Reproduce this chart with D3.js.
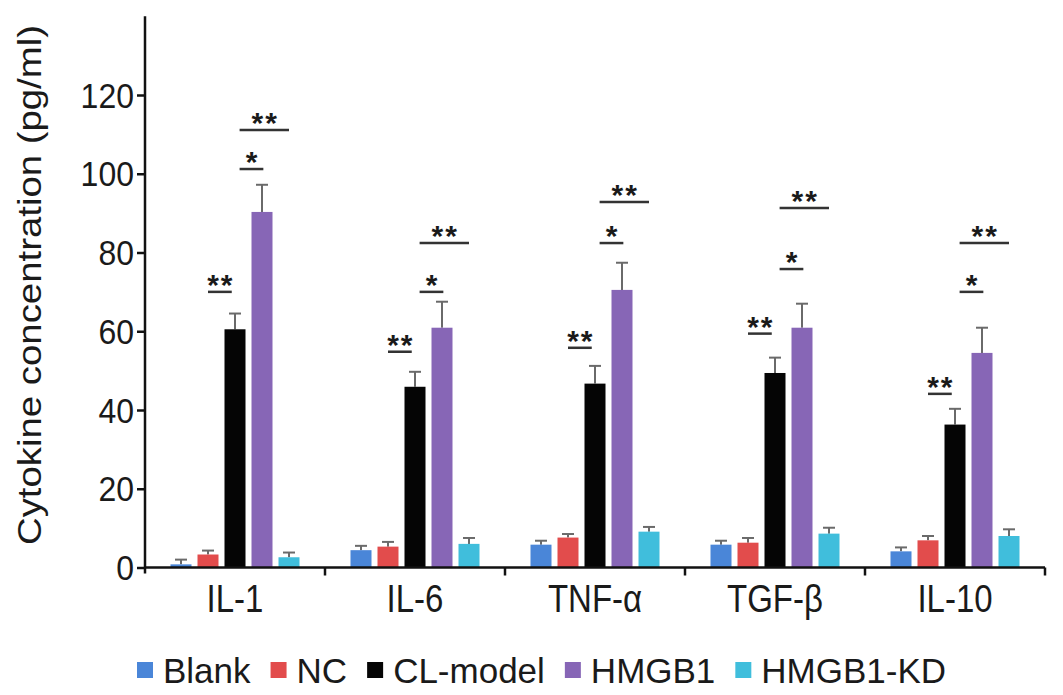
<!DOCTYPE html>
<html>
<head>
<meta charset="utf-8">
<script src="https://cdn.jsdelivr.net/npm/d3@7"></script>
<style>
  html, body { margin: 0; padding: 0; background: #fff; }
  svg { display: block; }
  text { font-family: "Liberation Sans", Arial, sans-serif; fill: #1a1a1a; }
</style>
</head>
<body>
<svg id="chart" width="1063" height="695"></svg>
<script>
// ---- data ----
const categories = ["IL-1", "IL-6", "TNF-\u03b1", "TGF-\u03b2", "IL-10"];
const seriesNames = ["Blank", "NC", "CL-model", "HMGB1", "HMGB1-KD"];
const blank    = [0.8, 4.4, 5.8, 5.8, 4.1];
const blankErr = [1.2, 1.1, 1.0, 1.0, 1.0];
const nc       = [3.3, 5.3, 7.6, 6.3, 6.9];
const ncErr    = [1.0, 1.2, 0.9, 1.2, 1.1];
const clModel  = [60.5, 45.9, 46.7, 49.4, 36.3];
const clErr    = [4.0, 3.8, 4.5, 3.9, 4.0];
const hmgb1    = [90.3, 60.9, 70.5, 60.9, 54.5];
const hmgb1Err = [6.9, 6.6, 6.9, 6.1, 6.4];
const kd       = [2.6, 6.0, 9.1, 8.6, 8.0];
const kdErr    = [1.2, 1.5, 1.2, 1.5, 1.7];
const yTicks   = [0, 20, 40, 60, 80, 100, 120];
const yMax     = 140;
// significance annotations (value of the line) per category
const sigLow   = [70.0, 54.8, 55.8, 59.4, 44.1];
const sigMid   = [101.2, 70.0, 82.4, 75.8, 70.0];
const sigTop   = [111.1, 82.4, 92.8, 91.3, 82.4];
const sigLabels = ["**", "*", "**"];

const values = [blank, nc, clModel, hmgb1, kd];
const errors = [blankErr, ncErr, clErr, hmgb1Err, kdErr];
const colors = ["#4a86d8", "#e24c4c", "#050505", "#8766b6", "#40bedc"];

// ---- layout ----
const svg = d3.select("#chart");
const X0 = 145, X1 = 1045, Y0 = 567.5, YT = 16.25;
const y = d3.scaleLinear().domain([0, yMax]).range([Y0, YT]);
const xBand = d3.scaleBand().domain(categories).range([X0, X1]).padding(0);
const pitch = 27, barW = 21;
const xSub = d3.scaleLinear().domain([0, 4]).range([-2 * pitch, 2 * pitch]);
const cx = (c, i) => xBand(c) + xBand.bandwidth() / 2 + xSub(i);

// bars
const barData = [];
categories.forEach((c, ci) => {
  seriesNames.forEach((s, si) => {
    barData.push({ c, ci, si, v: values[si][ci], e: errors[si][ci] });
  });
});

// error bars
const eg = svg.append("g");
eg.selectAll("line.stem").data(barData).join("line")
  .attr("x1", d => cx(d.c, d.si)).attr("x2", d => cx(d.c, d.si))
  .attr("y1", d => y(d.v)).attr("y2", d => y(d.v + d.e))
  .attr("stroke", "#6a6a6a").attr("stroke-width", 2);
eg.selectAll("line.cap").data(barData).join("line")
  .attr("x1", d => cx(d.c, d.si) - 6).attr("x2", d => cx(d.c, d.si) + 6)
  .attr("y1", d => y(d.v + d.e)).attr("y2", d => y(d.v + d.e))
  .attr("stroke", "#6a6a6a").attr("stroke-width", 2);

svg.append("g").selectAll("rect").data(barData).join("rect")
  .attr("x", d => cx(d.c, d.si) - barW / 2)
  .attr("width", barW)
  .attr("y", d => y(d.v))
  .attr("height", d => Y0 - y(d.v))
  .attr("fill", d => colors[d.si]);

// significance annotations
const spans = [[1.0, 1.88], [2.17, 3.05], [2.17, 4.0]];
const sigVals = [sigLow, sigMid, sigTop];
const sg = svg.append("g");
categories.forEach((c, ci) => {
  sigVals.forEach((arr, k) => {
    const xa = xBand(c) + xBand.bandwidth() / 2 + xSub(spans[k][0]);
    const xb = xBand(c) + xBand.bandwidth() / 2 + xSub(spans[k][1]);
    const ly = y(arr[ci]);
    sg.append("line").attr("x1", xa).attr("x2", xb).attr("y1", ly).attr("y2", ly)
      .attr("stroke", "#333").attr("stroke-width", 2.5);
    sg.append("text").attr("x", (xa + xb) / 2 + 1).attr("y", ly + 3)
      .attr("text-anchor", "middle").attr("font-size", 30).attr("font-weight", "bold")
      .attr("letter-spacing", 2)
      .text(sigLabels[k]);
  });
});

// y axis
const yAxis = d3.axisLeft(y).tickValues(yTicks).tickSize(8).tickSizeOuter(0).tickPadding(3);
const ya = svg.append("g").attr("transform", `translate(${X0},0)`).call(yAxis);
ya.select(".domain").attr("stroke", "#111").attr("stroke-width", 2.5)
  .attr("d", `M0,${YT}V${Y0 + 6}`);
ya.selectAll(".tick line").attr("stroke", "#111").attr("stroke-width", 2.5);
ya.selectAll(".tick text")
  .attr("font-size", 32).attr("fill", "#1a1a1a")
  .attr("font-family", "Liberation Sans, Arial, sans-serif")
  .attr("dy", null)
  .attr("dominant-baseline", "central")
  .attr("y", 0)
  .attr("transform", "scale(1,1.1)");

// x axis
const xa = svg.append("g");
xa.append("line").attr("x1", X0).attr("x2", X1).attr("y1", Y0).attr("y2", Y0)
  .attr("stroke", "#111").attr("stroke-width", 2.5);
const bounds = categories.map(c => xBand(c) + xBand.bandwidth());
xa.selectAll("line.tick").data(bounds).join("line")
  .attr("x1", d => d).attr("x2", d => d).attr("y1", Y0).attr("y2", Y0 + 8)
  .attr("stroke", "#111").attr("stroke-width", 2.5);
xa.selectAll("text").data(categories).join("text")
  .attr("transform", c => `translate(${xBand(c) + xBand.bandwidth() / 2},612) scale(1,1.15)`)
  .attr("text-anchor", "middle").attr("font-size", 33)
  .text(c => c);

// y label
svg.append("text")
  .attr("transform", "translate(41,285) rotate(-90)")
  .attr("text-anchor", "middle").attr("font-size", 33)
  .attr("textLength", 520).attr("lengthAdjust", "spacingAndGlyphs")
  .text("Cytokine  concentration (pg/ml)");

// legend
const lg = svg.append("g").attr("transform", "translate(137,670)");
let lx = 0;
seriesNames.forEach((s, i) => {
  lg.append("rect").attr("x", lx).attr("y", -8).attr("width", 16).attr("height", 16)
    .attr("fill", colors[i]);
  const t = lg.append("text").attr("x", lx + 26).attr("y", 0)
    .attr("dominant-baseline", "central")
    .attr("font-size", 35)
    .text(s);
  const w = t.node().getComputedTextLength();
  lx += 26 + w + 20;
});
</script>
</body>
</html>
